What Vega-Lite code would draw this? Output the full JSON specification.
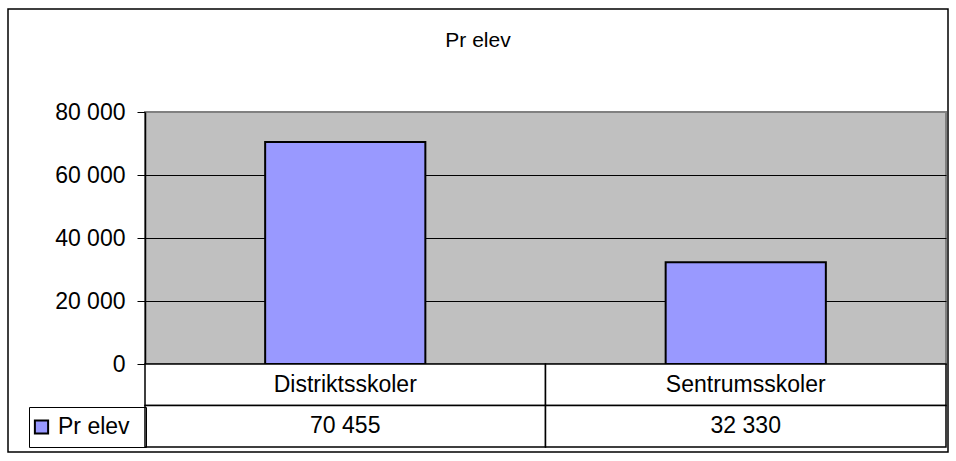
{
  "$schema": "https://vega.github.io/schema/vega-lite/v6.json",
  "width": 801,
  "height": 252,
  "autosize": {"type": "none"},
  "padding": {"left": 145, "top": 112, "right": 10, "bottom": 97},
  "background": "white",
  "title": {"text": "Pr elev", "fontSize": 21, "font": "Liberation Sans", "fontWeight": "normal", "color": "black", "anchor": "middle", "offset": -43, "dx": -67.5},
  "data": {"values": [
    {"category": "Distriktsskoler", "value": 70455, "series": "Pr elev"},
    {"category": "Sentrumsskoler", "value": 32330, "series": "Pr elev"}
  ]},
  "config": {
    "locale": {"number": {"decimal": ",", "thousands": " ", "grouping": [3], "currency": ["", " kr"]}},
    "font": "Liberation Sans",
    "view": {"fill": "#C0C0C0", "stroke": "#808080", "strokeWidth": 2}
  },
  "resolve": {"scale": {"x": "independent", "y": "independent", "color": "independent"}},
  "layer": [
    {
      "mark": {"type": "bar", "width": {"band": 0.4}, "stroke": "black", "strokeWidth": 2},
      "encoding": {
        "x": {"field": "category", "type": "nominal", "scale": {"paddingInner": 0, "paddingOuter": 0}, "axis": null},
        "y": {"field": "value", "type": "quantitative", "scale": {"domain": [0, 80000], "nice": false},
          "axis": {"orient": "left", "values": [0, 20000, 40000, 60000, 80000], "format": ",d", "title": null,
            "domainColor": "black", "domainWidth": 1.5, "tickColor": "black", "tickSize": 8, "tickWidth": 1,
            "labelFontSize": 23, "labelColor": "black", "labelPadding": 12, "labelFont": "Liberation Sans",
            "grid": true, "gridOpacity": 1, "gridWidth": 1,
            "gridColor": {"condition": {"test": "datum.value === 80000", "value": "#808080"}, "value": "black"}}},
        "color": {"field": "series", "type": "nominal", "scale": {"range": ["#9999FF"]},
          "legend": {"orient": "none", "legendX": -116, "legendY": 295, "strokeColor": "black",
            "title": ".", "titleOrient": "right", "titleColor": "rgba(0,0,0,0)", "titleFontSize": 23, "titlePadding": 9,
            "padding": 0, "symbolType": "square", "symbolSize": 175, "symbolStrokeColor": "black", "symbolStrokeWidth": 2,
            "symbolOffset": 1, "labelFontSize": 23, "labelColor": "black", "labelOffset": 5, "labelFont": "Liberation Sans",
            "clipHeight": 40}}
      }
    },
    {
      "mark": {"type": "rect", "fill": "white", "stroke": "black", "strokeWidth": 1.5},
      "encoding": {
        "x": {"field": "category", "type": "nominal", "scale": {"paddingInner": 0, "paddingOuter": 0}, "axis": null},
        "y": {"datum": "name", "type": "nominal", "scale": {"domain": ["name", "value"], "range": [252, 335], "paddingInner": 0, "paddingOuter": 0}, "axis": null}
      }
    },
    {
      "mark": {"type": "rect", "fill": "white", "stroke": "black", "strokeWidth": 1.5},
      "encoding": {
        "x": {"field": "category", "type": "nominal", "scale": {"paddingInner": 0, "paddingOuter": 0}, "axis": null},
        "y": {"datum": "value", "type": "nominal", "scale": {"domain": ["name", "value"], "range": [252, 335], "paddingInner": 0, "paddingOuter": 0}, "axis": null}
      }
    },
    {
      "mark": {"type": "text", "fontSize": 23, "color": "black", "font": "Liberation Sans"},
      "encoding": {
        "x": {"field": "category", "type": "nominal", "scale": {"paddingInner": 0, "paddingOuter": 0}, "axis": null},
        "y": {"datum": "name", "type": "nominal", "scale": {"domain": ["name", "value"], "range": [252, 335], "paddingInner": 0, "paddingOuter": 0}, "axis": null},
        "text": {"field": "category", "type": "nominal"}
      }
    },
    {
      "mark": {"type": "text", "fontSize": 23, "color": "black", "font": "Liberation Sans"},
      "encoding": {
        "x": {"field": "category", "type": "nominal", "scale": {"paddingInner": 0, "paddingOuter": 0}, "axis": null},
        "y": {"datum": "value", "type": "nominal", "scale": {"domain": ["name", "value"], "range": [252, 335], "paddingInner": 0, "paddingOuter": 0}, "axis": null},
        "text": {"field": "value", "type": "quantitative", "format": ",d"}
      }
    },
    {
      "data": {"values": [{"frame": "outer"}]},
      "mark": {"type": "rect", "fill": null, "stroke": "black", "strokeWidth": 1.5},
      "encoding": {
        "x": {"datum": 0, "type": "quantitative", "scale": {"domain": [0, 1], "range": [-137, 803], "nice": false, "zero": false}, "axis": null},
        "x2": {"datum": 1},
        "y": {"datum": 0, "type": "quantitative", "scale": {"domain": [0, 1], "range": [340, -103], "nice": false, "zero": false}, "axis": null},
        "y2": {"datum": 1}
      }
    }
  ]
}
